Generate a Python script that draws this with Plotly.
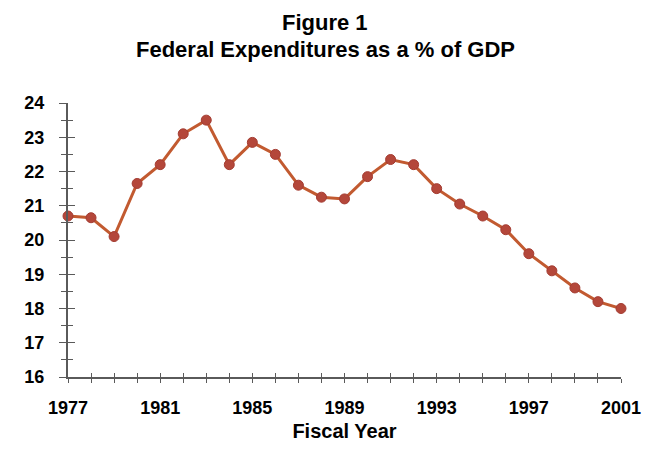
import plotly.graph_objects as go

years = list(range(1977, 2002))
pct_gdp = [20.7, 20.65, 20.1, 21.65, 22.2, 23.1, 23.5, 22.2, 22.85, 22.5,
           21.6, 21.25, 21.2, 21.85, 22.35, 22.2, 21.5, 21.05, 20.7, 20.3,
           19.6, 19.1, 18.6, 18.2, 18.0]
x_ticks = [1977, 1981, 1985, 1989, 1993, 1997, 2001]
y_ticks = [16, 17, 18, 19, 20, 21, 22, 23, 24]
title_lines = ["Figure 1", "Federal Expenditures as a % of GDP"]

FONT = "Liberation Sans"
AX = "#5a5a5a"

fig = go.Figure()
fig.add_trace(go.Scatter(
    x=years, y=pct_gdp, mode="lines+markers",
    line=dict(color="#C25A30", width=3),
    marker=dict(symbol="circle", size=10, color="#B4473A",
                line=dict(color="#A43C32", width=1)),
    showlegend=False, cliponaxis=False))
# overlay trace so the inside (crossing) ticks are drawn
fig.add_trace(go.Scatter(x=[years[0]], y=[pct_gdp[0]], xaxis="x2", yaxis="y2",
                         mode="markers", marker=dict(opacity=0), showlegend=False,
                         hoverinfo="skip"))

fig.add_annotation(text=f"<b>{title_lines[0]}</b>", xref="paper", yref="paper",
                   x=0.465, y=1, xanchor="center", yanchor="bottom",
                   yshift=66, showarrow=False,
                   font=dict(family=FONT, size=22, color="black"))
fig.add_annotation(text=f"<b>{title_lines[1]}</b>", xref="paper", yref="paper",
                   x=0.465, y=1, xanchor="center", yanchor="bottom",
                   yshift=39, showarrow=False,
                   font=dict(family=FONT, size=22, color="black"))

fig.update_layout(
    width=647, height=441,
    paper_bgcolor="white", plot_bgcolor="white",
    margin=dict(l=60, r=34, t=95, b=72),
    font=dict(family=FONT, color="black"),
    xaxis=dict(range=[1977, 2001], tickmode="array", tickvals=x_ticks,
               ticktext=[f"<b>{t}</b>" for t in x_ticks], automargin=False,
               showgrid=False, zeroline=False, showline=True, linecolor=AX, linewidth=2,
               ticks="outside", ticklen=4, tickcolor=AX, tickwidth=1,
               minor=dict(dtick=1, tick0=1977, ticks="outside", ticklen=4, tickcolor=AX),
               tickfont=dict(size=18, family=FONT, color="black"),
               ticklabelstandoff=9,
               title=dict(text="<b>Fiscal Year</b>", font=dict(size=20, family=FONT),
                          standoff=7)),
    yaxis=dict(range=[16, 24], tickmode="array", tickvals=y_ticks,
               ticktext=[f"<b>{t}</b>" for t in y_ticks], automargin=False,
               showgrid=False, zeroline=False, showline=True, linecolor=AX, linewidth=2,
               ticks="outside", ticklen=7, tickcolor=AX, tickwidth=1,
               minor=dict(dtick=0.5, tick0=16, ticks="outside", ticklen=5, tickcolor=AX),
               tickfont=dict(size=18, family=FONT, color="black"),
               ticklabelstandoff=11),
    xaxis2=dict(range=[1977, 2001], overlaying="x", matches="x", showgrid=False,
                zeroline=False, showticklabels=False, ticks="inside", ticklen=4,
                tickcolor=AX, dtick=1, tick0=1977, side="bottom", automargin=False),
    yaxis2=dict(range=[16, 24], overlaying="y", matches="y", showgrid=False,
                zeroline=False, showticklabels=False, ticks="inside", ticklen=7,
                tickcolor=AX, dtick=1, tick0=16, side="left", automargin=False,
                minor=dict(dtick=0.5, tick0=16, ticks="inside", ticklen=5, tickcolor=AX)),
)

fig.write_html("out.html")
